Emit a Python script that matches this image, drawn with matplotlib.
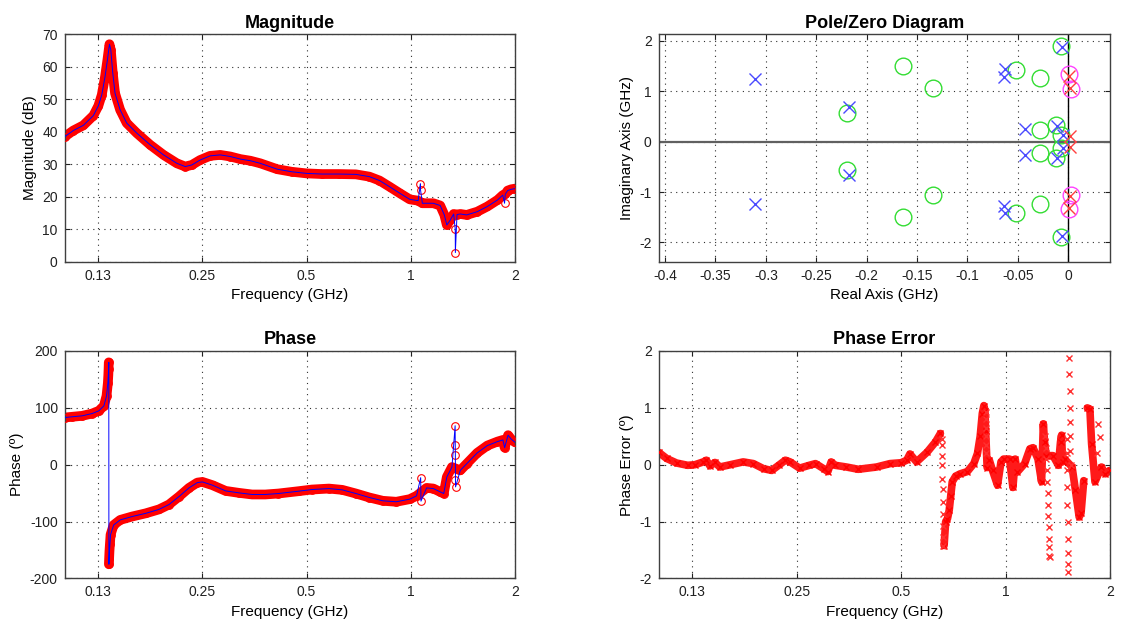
import numpy as np
import matplotlib
matplotlib.use("Agg")
import matplotlib.pyplot as plt
from matplotlib.ticker import NullLocator

plt.rcParams['font.family'] = ['Liberation Sans', 'DejaVu Sans']
plt.rcParams['axes.unicode_minus'] = False

# ---- measured response (GHz, dB) ----
mag_freq = [0.100, 0.1059, 0.1132, 0.121, 0.1251, 0.128, 0.1308, 0.1329, 0.1347, 0.1359,
            0.1377, 0.1398, 0.1446, 0.1511, 0.1616, 0.1766, 0.193, 0.211, 0.223, 0.233,
            0.246, 0.263, 0.2815, 0.301, 0.322, 0.344, 0.3675, 0.411, 0.453, 0.500,
            0.554, 0.620, 0.694, 0.759, 0.812, 0.868, 0.929, 0.993, 1.050, 1.080,
            1.162, 1.216, 1.250, 1.271, 1.300, 1.330, 1.360, 1.390, 1.450, 1.556,
            1.664, 1.780, 1.844, 1.875, 1.905, 1.950, 2.000]
mag_db = [38.5, 40.4, 42.0, 45.0, 48.0, 51.4, 57.0, 62.2, 67.0, 65.3,
          58.1, 51.9, 46.8, 42.7, 39.6, 36.0, 32.9, 30.3, 29.3, 29.8,
          31.3, 32.6, 32.9, 32.4, 31.6, 31.1, 30.3, 28.5, 27.7, 27.2,
          27.0, 27.0, 26.9, 26.2, 25.0, 23.1, 21.1, 19.2, 18.8, 18.0,
          18.0, 17.3, 14.4, 11.3, 12.8, 14.7, 14.5, 14.7, 14.4, 15.4,
          17.0, 19.0, 20.5, 20.8, 21.9, 22.3, 22.5]
# isolated samples off the main trace
mag_spike_freq = [1.066, 1.067, 1.344, 1.345, 1.866]
mag_spike_db = [24.0, 22.1, 10.0, 2.8, 18.0]

# ---- phase (deg) ----
phase_freq = [0.100, 0.105, 0.1123, 0.120, 0.1255, 0.1298, 0.1321, 0.1333, 0.1337, 0.1339,
              0.1341, 0.1342, 0.1344, 0.1347, 0.1351, 0.1357, 0.1385, 0.1447, 0.1567, 0.1713,
              0.1873, 0.2001, 0.2139, 0.2287, 0.2417, 0.250, 0.2674, 0.2918, 0.3185, 0.3479,
              0.3798, 0.4146, 0.474, 0.518, 0.580, 0.634, 0.694, 0.759, 0.830, 0.908,
              0.993, 1.039, 1.111, 1.162, 1.216, 1.245, 1.271, 1.315, 1.390, 1.450,
              1.556, 1.664, 1.780, 1.845, 1.867, 1.910, 1.950, 2.000]
phase_deg = [83, 84.3, 86, 90, 94.8, 103.5, 121, 144, 158, 168,
             180, -175, -165, -152, -140, -123, -106, -97, -91, -85.5,
             -78.5, -70, -56, -40.7, -31.4, -30.2, -36, -46, -49.4, -52.3,
             -52.3, -50.6, -46.5, -43.6, -41.9, -44.2, -50.6, -57.6, -63.4, -65.1,
             -60.5, -54.7, -40.7, -41.9, -47.7, -50.6, -21.5, -4.1, -9.9, 1.7,
             20.9, 33.7, 40.7, 43.6, 30.0, 52.0, 45.0, 39.5]
phase_spike_freq = [1.068, 1.070, 1.343, 1.344, 1.345, 1.346, 1.347]
phase_spike_deg = [-22.7, -64.0, 68.6, 34.9, 17.4, -27.0, -39.0]

# ---- phase error of the fit (deg) ----
perr_freq = [0.100, 0.1055, 0.1127, 0.1213, 0.1272, 0.1345, 0.1373, 0.1406, 0.1454, 0.1501,
             0.1609, 0.1753, 0.1876, 0.2007, 0.2119, 0.2218, 0.2319, 0.2393, 0.2549, 0.2718,
             0.2833, 0.2991, 0.3075, 0.3143, 0.3232, 0.3479, 0.3762, 0.4247, 0.4645, 0.500,
             0.519, 0.530, 0.554, 0.594, 0.628, 0.649, 0.665, 0.672, 0.680, 0.688,
             0.695, 0.702, 0.718, 0.740, 0.776, 0.810, 0.830, 0.845, 0.857, 0.866,
             0.872, 0.876, 0.885, 0.898, 0.917, 0.948, 0.970, 0.987, 1.027, 1.050,
             1.066, 1.080, 1.135, 1.175, 1.200, 1.240, 1.270, 1.285, 1.295, 1.310,
             1.370, 1.420, 1.440, 1.450, 1.460, 1.480, 1.555, 1.590, 1.630, 1.650,
             1.680, 1.720, 1.750, 1.770, 1.810, 1.890, 1.940, 2.000]
perr_deg = [0.22, 0.11, 0.03, -0.01, 0.0, 0.05, 0.08, -0.02, 0.04, -0.04,
            0.0, 0.05, 0.02, -0.07, -0.1, -0.01, 0.08, 0.05, -0.06, -0.01,
            0.02, -0.07, -0.12, 0.05, -0.01, -0.04, -0.08, -0.04, 0.02, 0.035,
            0.08, 0.19, 0.05, 0.22, 0.40, 0.55, -1.42, -1.0, -0.95, -0.8,
            -0.55, -0.3, -0.2, -0.16, -0.12, 0.02, 0.2, 0.5, 0.9, 1.04,
            0.95, 0.6, -0.05, 0.08, -0.1, -0.36, 0.05, 0.1, 0.1, -0.4,
            0.1, -0.13, 0.02, 0.28, 0.3, 0.1, -0.3, 0.72, 0.4, 0.16,
            0.16, -0.01, 0.4, 0.52, 0.05, 0.1, -0.04, -0.45, -0.92, -0.85,
            -0.28, 1.0, 0.98, 0.37, -0.3, -0.04, -0.16, -0.1]
# scattered samples where the error jumps
perr_scatter_freq = [0.656, 0.657, 0.657, 0.658, 0.658, 0.659, 0.660, 0.660, 0.661, 0.662, 0.662,
                     0.878, 0.878, 0.879, 0.880, 0.880, 0.881,
                     1.300, 1.305, 1.310, 1.315, 1.320, 1.322, 1.325, 1.328, 1.330, 1.333, 1.336, 1.338, 1.340,
                     1.500, 1.502, 1.504, 1.506, 1.508, 1.510, 1.512, 1.514, 1.516, 1.518,
                     1.525, 1.527, 1.529, 1.531, 1.533, 1.535, 1.537, 1.539,
                     1.830, 1.850, 1.870]
perr_scatter_deg = [0.46, 0.34, 0.16, -0.01, -0.25, -0.42, -0.66, -0.86, -1.07, -1.27, -1.42,
                    0.93, 0.8, 0.65, 0.5, 0.35, 0.2,
                    0.5, 0.3, 0.1, -0.1, -0.3, -0.5, -0.7, -0.9, -1.1, -1.3, -1.45, -1.6, -1.62,
                    0.45, 0.2, -0.1, -0.4, -0.7, -1.0, -1.3, -1.55, -1.75, -1.89,
                    1.87, 1.6, 1.3, 1.0, 0.75, 0.5, 0.25, 0.0,
                    0.2, 0.72, 0.48]

# ---- poles and zeros (GHz) ----
pole_re = [-0.3105, -0.3105, -0.2175, -0.2175, -0.0625, -0.0625, -0.064, -0.064,
           -0.0427, -0.0427, -0.0112, -0.0112, -0.0053, -0.0053, -0.006, -0.006]
pole_im = [1.24, -1.24, 0.68, -0.67, 1.43, -1.41, 1.27, -1.28,
           0.25, -0.26, 0.31, -0.32, 0.12, -0.12, 1.87, -1.87]
zero_re = [-0.219, -0.219, -0.164, -0.164, -0.134, -0.134, -0.0516, -0.0516, -0.0284,
           -0.0284, -0.028, -0.028, -0.012, -0.012, -0.007, -0.007, -0.0075, -0.0075]
zero_im = [0.57, -0.56, 1.505, -1.505, 1.07, -1.05, 1.425, -1.41, 1.26,
           -1.24, 0.23, -0.22, 0.33, -0.33, 0.13, -0.13, 1.885, -1.885]
rhp_zero_re = [0.003, 0.003, 0.001, 0.001]
rhp_zero_im = [1.04, -1.05, 1.33, -1.34]
rhp_pole_re = [0.002, 0.002, 0.001, 0.001, 0.002, 0.002]
rhp_pole_im = [1.07, -1.08, 1.30, -1.31, 0.11, -0.11]

freq_ticks = [0.125, 0.25, 0.5, 1, 2]
freq_ticklabels = ['0.13', '0.25', '0.5', '1', '2']
pz_xticks = [-0.4, -0.35, -0.3, -0.25, -0.2, -0.15, -0.1, -0.05, 0]
pz_xticklabels = ['-0.4', '-0.35', '-0.3', '-0.25', '-0.2', '-0.15', '-0.1', '-0.05', '0']


def matlab_axes(ax):
    ax.tick_params(direction='in', top=True, right=True, length=3.5, width=0.8,
                   labelsize=10, pad=5, colors='#202020')
    for sp in ax.spines.values():
        sp.set_color('#404040')
        sp.set_linewidth(1.0)
    ax.grid(True, color='#303030', linestyle=(0, (1, 4)), linewidth=0.8)
    ax.set_axisbelow(True)


def freq_axis(ax):
    ax.set_xscale('log')
    ax.set_xlim(0.1, 2)
    ax.set_xticks(freq_ticks)
    ax.set_xticklabels(freq_ticklabels)
    ax.xaxis.set_minor_locator(NullLocator())
    ax.set_xlabel('Frequency (GHz)', fontsize=11)


def draw_band(ax, f, y, jump, lw, color='red'):
    # thick trace through consecutive samples, broken at large jumps
    f = np.asarray(f, float)
    y = np.asarray(y, float)
    breaks = np.where(np.abs(np.diff(y)) > jump)[0] + 1
    for fs, ys in zip(np.split(f, breaks), np.split(y, breaks)):
        ax.plot(fs, ys, color=color, lw=lw, solid_capstyle='round',
                solid_joinstyle='round', zorder=2)


def merged(f1, y1, f2, y2):
    f = np.concatenate([f1, f2])
    y = np.concatenate([y1, y2])
    order = np.argsort(f, kind='stable')
    return f[order], y[order]


fig = plt.figure(figsize=(11.21, 6.26), dpi=100)
ax_mag = fig.add_axes([0.0577, 0.582, 0.4017, 0.3629])
ax_pz = fig.add_axes([0.5875, 0.582, 0.4027, 0.3629])
ax_ph = fig.add_axes([0.0577, 0.0759, 0.4017, 0.3634])
ax_err = fig.add_axes([0.5875, 0.0759, 0.4027, 0.3634])

# Magnitude
draw_band(ax_mag, mag_freq, mag_db, 8, 7)
f_all, y_all = merged(mag_freq, mag_db, mag_spike_freq, mag_spike_db)
ax_mag.plot(f_all, y_all, 'o', mfc='none', mec='red', ms=5.5, mew=0.8, zorder=3)
ax_mag.plot(f_all, y_all, '-', color='blue', lw=0.7, zorder=4)
freq_axis(ax_mag)
ax_mag.set_ylim(0, 70)
ax_mag.set_yticks(range(0, 71, 10))
ax_mag.set_ylabel('Magnitude (dB)', fontsize=11)
ax_mag.set_title('Magnitude', fontsize=13, fontweight='bold', pad=5)
matlab_axes(ax_mag)

# Phase
draw_band(ax_ph, phase_freq, phase_deg, 100, 7)
f_all, y_all = merged(phase_freq, phase_deg, phase_spike_freq, phase_spike_deg)
ax_ph.plot(f_all, y_all, 'o', mfc='none', mec='red', ms=5.5, mew=0.8, zorder=3)
ax_ph.plot(f_all, y_all, '-', color='blue', lw=0.7, zorder=4)
freq_axis(ax_ph)
ax_ph.set_ylim(-200, 200)
ax_ph.set_yticks(range(-200, 201, 100))
ax_ph.set_ylabel('Phase (º)', fontsize=11)
ax_ph.set_title('Phase', fontsize=13, fontweight='bold', pad=5)
matlab_axes(ax_ph)

# Phase error
draw_band(ax_err, perr_freq, perr_deg, 1.2, 5.5, color='#ff1a1a')
ax_err.plot(perr_freq, perr_deg, 'x', color='red', ms=4, mew=1.0, zorder=3)
ax_err.plot(perr_scatter_freq, perr_scatter_deg, 'x', color='#ff3030', ms=4, mew=1.0, zorder=3)
freq_axis(ax_err)
ax_err.set_ylim(-2, 2)
ax_err.set_yticks([-2, -1, 0, 1, 2])
ax_err.set_ylabel('Phase Error (º)', fontsize=11)
ax_err.set_title('Phase Error', fontsize=13, fontweight='bold', pad=5)
matlab_axes(ax_err)

# Pole/zero map
ax_pz.axhline(0, color='#606060', lw=1.6, zorder=1)
ax_pz.axvline(0, color='black', lw=1.0, zorder=1)
ax_pz.plot(zero_re, zero_im, 'o', mfc='none', mec='#33dd33', ms=12, mew=1.0, zorder=3)
ax_pz.plot(pole_re, pole_im, 'x', color='#4a4aff', ms=8, mew=1.0, zorder=4)
ax_pz.plot(rhp_zero_re, rhp_zero_im, 'o', mfc='none', mec='#ff40ff', ms=12, mew=1.0, zorder=3)
ax_pz.plot(rhp_pole_re, rhp_pole_im, 'x', color='#ff4040', ms=8, mew=1.0, zorder=4)
ax_pz.set_xlim(-0.4064, 0.0415)
ax_pz.set_ylim(-2.38, 2.12)
ax_pz.set_xticks(pz_xticks)
ax_pz.set_xticklabels(pz_xticklabels)
ax_pz.set_yticks([-2, -1, 0, 1, 2])
ax_pz.set_xlabel('Real Axis (GHz)', fontsize=11)
ax_pz.set_ylabel('Imaginary Axis (GHz)', fontsize=11)
ax_pz.set_title('Pole/Zero Diagram', fontsize=13, fontweight='bold', pad=5)
matlab_axes(ax_pz)

fig.savefig('out.png', dpi=100)
